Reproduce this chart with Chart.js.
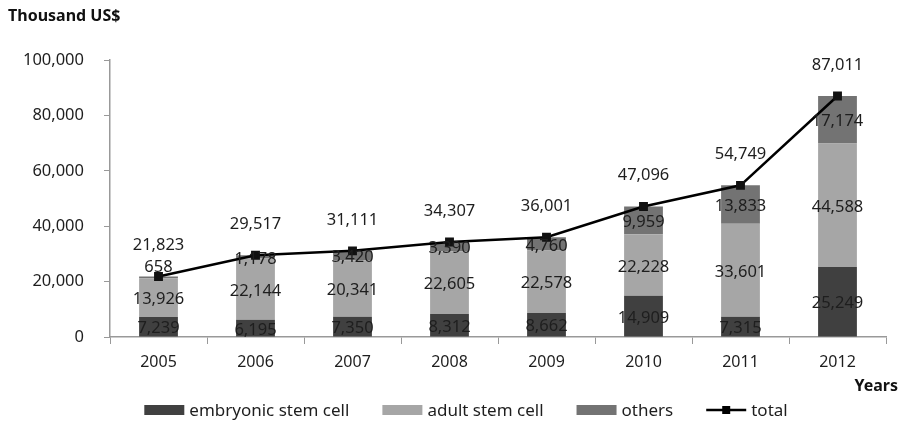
<!DOCTYPE html>
<html>
<head>
<meta charset="utf-8">
<style>
  html, body { margin: 0; padding: 0; background: #fff; }
  #wrap { width: 903px; height: 424px; position: relative; }
</style>
<script src="https://cdn.jsdelivr.net/npm/chart.js@4.4.1/dist/chart.umd.min.js"></script>
</head>
<body>
<div id="wrap"><canvas id="chart" width="903" height="424"></canvas></div>
<script>
// data
const years = ['2005', '2006', '2007', '2008', '2009', '2010', '2011', '2012'];
const embryonic = [7239, 6195, 7350, 8312, 8662, 14909, 7315, 25249];
const adult = [13926, 22144, 20341, 22605, 22578, 22228, 33601, 44588];
const others = [658, 1178, 3420, 3390, 4760, 9959, 13833, 17174];
const total = [21823, 29517, 31111, 34307, 36001, 47096, 54749, 87011];
const yTicks = [0, 20000, 40000, 60000, 80000, 100000];

const FONT = '"Noto Sans", "Open Sans", sans-serif';
const fmt = v => v.toLocaleString('en-US');

// value labels on segments and above the total line
const labelPlugin = {
    id: 'valueLabels',
    afterDatasetsDraw(chart) {
        const ctx = chart.ctx;
        ctx.save();
        ctx.font = '16.5px ' + FONT;
        ctx.fillStyle = '#1e1e1e';
        ctx.textAlign = 'center';
        ctx.textBaseline = 'middle';
        chart.data.datasets.forEach((ds, i) => {
            const meta = chart.getDatasetMeta(i);
            meta.data.forEach((el, j) => {
                const v = ds.data[j];
                if (ds.type === 'line') {
                    ctx.fillText(fmt(v), el.x, el.y - 31);
                } else if (el.base - el.y < 2.5) {
                    // very thin segment (2005 others): label sits just above the bar
                    ctx.fillText(fmt(v), el.x, el.y - 9);
                } else {
                    ctx.fillText(fmt(v), el.x, (el.y + el.base) / 2 + 2);
                }
            });
        });
        ctx.restore();
    }
};

// title, axis name and legend
const decorPlugin = {
    id: 'decor',
    afterDraw(chart) {
        const ctx = chart.ctx;
        ctx.save();
        ctx.fillStyle = '#111';
        ctx.font = 'bold 16px ' + FONT;
        ctx.textBaseline = 'middle';
        ctx.textAlign = 'left';
        ctx.fillText('Thousand US$', 8, 16);
        ctx.textAlign = 'right';
        ctx.fillText('Years', 898, 386);

        // legend
        ctx.font = '17px ' + FONT;
        ctx.textAlign = 'left';
        const y = 410;
        const items = [
            { label: 'embryonic stem cell', color: '#404040', kind: 'box' },
            { label: 'adult stem cell', color: '#a6a6a6', kind: 'box' },
            { label: 'others', color: '#737373', kind: 'box' },
            { label: 'total', color: '#000', kind: 'line' }
        ];
        const boxW = 40, gap = 5, spacing = 33;
        let w = 0;
        items.forEach(it => { w += boxW + gap + ctx.measureText(it.label).width + spacing; });
        w -= spacing;
        let x = 466 - w / 2;
        items.forEach(it => {
            if (it.kind === 'box') {
                ctx.fillStyle = it.color;
                ctx.fillRect(x, y - 5, boxW, 10);
            } else {
                ctx.strokeStyle = it.color;
                ctx.lineWidth = 2.5;
                ctx.beginPath();
                ctx.moveTo(x, y);
                ctx.lineTo(x + boxW, y);
                ctx.stroke();
                ctx.fillStyle = it.color;
                ctx.fillRect(x + boxW / 2 - 4, y - 4, 8, 8);
            }
            x += boxW + gap;
            ctx.fillStyle = '#1e1e1e';
            ctx.fillText(it.label, x, y + 1);
            x += ctx.measureText(it.label).width + spacing;
        });
        ctx.restore();
    }
};

const barOpts = { barPercentage: 0.8, categoryPercentage: 0.5, borderWidth: 0, stack: 's' };

new Chart(document.getElementById('chart'), {
    data: {
        labels: years,
        datasets: [
            {
                type: 'line', label: 'total', data: total,
                borderColor: '#000', borderWidth: 2.5, tension: 0,
                pointStyle: 'rect', pointRadius: 4.5,
                pointBackgroundColor: '#111', pointBorderColor: '#111',
                order: 0
            },
            Object.assign({ type: 'bar', label: 'embryonic stem cell', data: embryonic, backgroundColor: '#404040', order: 1 }, barOpts),
            Object.assign({ type: 'bar', label: 'adult stem cell', data: adult, backgroundColor: '#a6a6a6', order: 1 }, barOpts),
            Object.assign({ type: 'bar', label: 'others', data: others, backgroundColor: '#737373', order: 1 }, barOpts)
        ]
    },
    options: {
        responsive: false,
        animation: false,
        layout: { padding: { top: 60, right: 17, left: 0, bottom: 0 } },
        plugins: {
            legend: { display: false },
            tooltip: { enabled: false }
        },
        scales: {
            x: {
                stacked: true,
                offset: true,
                grid: { offset: true, drawOnChartArea: false, tickLength: 7, color: '#999' },
                border: { color: '#999', width: 1.5 },
                ticks: { font: { family: FONT, size: 16 }, color: '#1e1e1e', padding: 9 },
                afterFit(scale) { scale.height = 87; }
            },
            y: {
                stacked: true,
                min: 0, max: 100000,
                afterBuildTicks(scale) { scale.ticks = yTicks.map(v => ({ value: v })); },
                grid: { drawOnChartArea: false, tickLength: 6, color: '#999' },
                border: { color: '#999', width: 1.5 },
                ticks: {
                    font: { family: FONT, size: 16.5 }, color: '#1e1e1e', padding: 20,
                    callback: v => fmt(v)
                },
                afterFit(scale) { scale.width = 110; }
            }
        }
    },
    plugins: [labelPlugin, decorPlugin]
});
</script>
</body>
</html>
